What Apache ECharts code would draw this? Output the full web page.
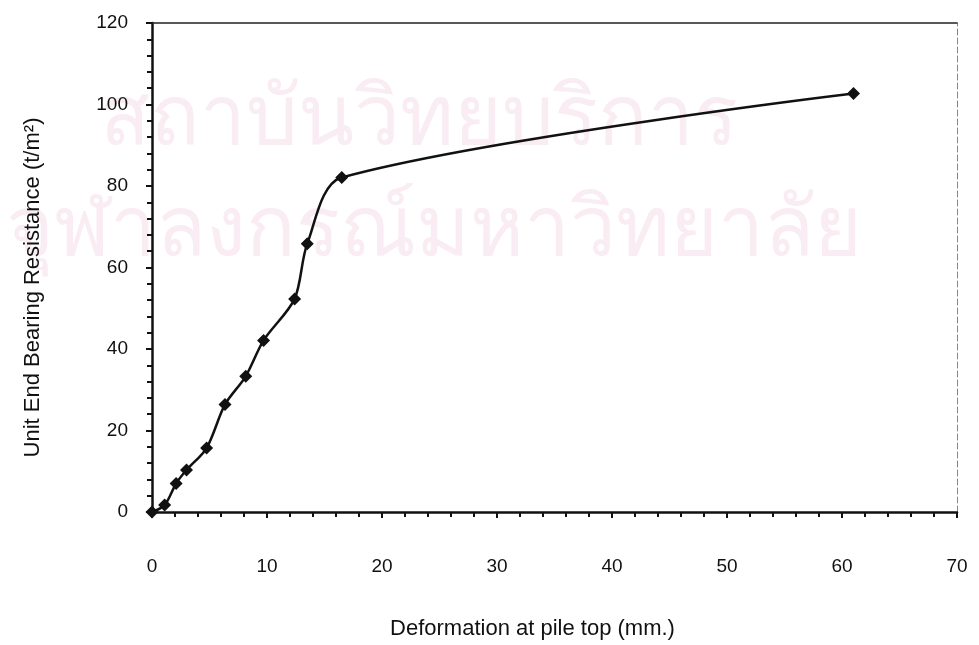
<!DOCTYPE html>
<html>
<head>
<meta charset="utf-8">
<script src="https://cdn.jsdelivr.net/npm/echarts@6/dist/echarts.min.js"></script>
<style>
html,body{margin:0;padding:0;background:#fff;}
#chart{width:979px;height:645px;}
</style>
</head>
<body>
<div id="chart"></div>
<script>
var deformation = [0, 1.1, 2.1, 3.0, 4.75, 6.35, 8.15, 9.7, 12.4, 13.5, 16.5, 61.0];
var resistance  = [0, 1.7, 7.0, 10.3, 15.7, 26.4, 33.3, 42.1, 52.3, 65.8, 82.1, 102.7];
var xTicks = [0, 10, 20, 30, 40, 50, 60, 70];
var yTicks = [0, 20, 40, 60, 80, 100, 120];
var xTitle = 'Deformation at pile top (mm.)';
var yTitle = 'Unit End Bearing Resistance (t/m²)';
var watermark1 = 'สถาบันวิทยบริการ';
var watermark2 = 'จุฬาลงกรณ์มหาวิทยาลัย';

var points = deformation.map(function (x, i) { return [x, resistance[i]]; });
var font = '"Liberation Sans", Arial, sans-serif';

var chart = echarts.init(document.getElementById('chart'), null, {renderer: 'canvas'});
chart.setOption({
  backgroundColor: '#ffffff',
  animation: false,
  graphic: [
    {type: 'text', z: 0, silent: true,
     style: {x: 100, y: 80, text: watermark1, font: '82px "Noto Sans", sans-serif',
             fill: '#f9ecf2', textAlign: 'left', textVerticalAlign: 'top'}},
    {type: 'text', z: 0, silent: true,
     style: {x: 862, y: 191, text: watermark2, font: '82px "Noto Sans", sans-serif',
             fill: '#f9ecf2', textAlign: 'right', textVerticalAlign: 'top'}}
  ],
  grid: {left: 152, right: 22, top: 23, bottom: 133, show: false},
  xAxis: [{
    type: 'value', min: 0, max: 70, interval: 10,
    position: 'bottom',
    name: xTitle, nameLocation: 'middle', nameGap: 106,
    nameTextStyle: {fontFamily: font, fontSize: 22, color: '#111', padding: [0, 44, 0, 0]},
    axisLine: {show: true, onZero: false, lineStyle: {color: '#111', width: 2.5}},
    axisTick: {show: true, inside: false, length: 6, lineStyle: {color: '#111', width: 2}},
    minorTick: {show: true, splitNumber: 5, length: 5, lineStyle: {color: '#111', width: 2}},
    axisLabel: {margin: 45, fontFamily: font, fontSize: 19, color: '#111'},
    splitLine: {show: false}
  }, {
    type: 'value', min: 0, max: 70, position: 'top',
    axisLine: {show: true, onZero: false, lineStyle: {color: '#222', width: 1.5}},
    axisTick: {show: false}, axisLabel: {show: false}, splitLine: {show: false}
  }],
  yAxis: [{
    type: 'value', min: 0, max: 120, interval: 20,
    position: 'left',
    name: yTitle, nameLocation: 'middle', nameGap: 108, nameRotate: 90,
    nameTextStyle: {fontFamily: font, fontSize: 22, color: '#111', padding: [0, 40, 0, 0]},
    axisLine: {show: true, onZero: false, lineStyle: {color: '#111', width: 2.5}},
    axisTick: {show: true, inside: false, length: 6, lineStyle: {color: '#111', width: 2}},
    minorTick: {show: true, splitNumber: 5, length: 5, lineStyle: {color: '#111', width: 2}},
    axisLabel: {margin: 24, fontFamily: font, fontSize: 19, color: '#111'},
    splitLine: {show: false}
  }, {
    type: 'value', min: 0, max: 120, position: 'right',
    axisLine: {show: true, onZero: false, lineStyle: {color: '#888', width: 1, type: [6, 3]}},
    axisTick: {show: false}, axisLabel: {show: false}, splitLine: {show: false}
  }],
  series: [{
    type: 'line',
    data: points,
    smooth: 0.3,
    symbol: 'diamond',
    symbolSize: 13,
    showAllSymbol: true,
    clip: false,
    lineStyle: {color: '#111', width: 2.5},
    itemStyle: {color: '#111'},
    z: 5
  }]
});
</script>
</body>
</html>
